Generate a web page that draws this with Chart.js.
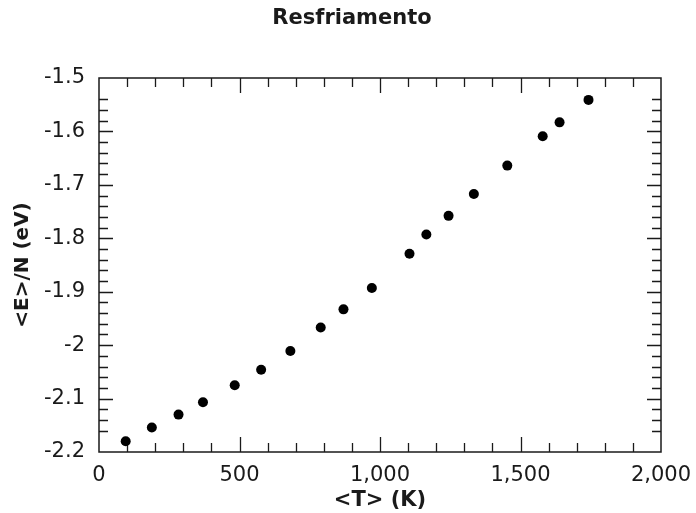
<!DOCTYPE html>
<html>
<head>
<meta charset="utf-8">
<script src="https://cdn.jsdelivr.net/npm/chart.js@4"></script>
<style>
  body { margin: 0; background: #fff; }
  canvas { display: block; }
</style>
</head>
<body>
<canvas id="chart" width="696" height="513"></canvas>
<script>
// mean temperature (K) and mean energy per atom (eV)
var temps = [95, 188, 283, 370, 483, 577, 681, 789, 870, 971, 1105, 1165, 1244, 1334, 1453, 1579, 1639, 1742];
var energies = [-2.180, -2.154, -2.130, -2.107, -2.075, -2.046, -2.011, -1.967, -1.933, -1.893,
                -1.829, -1.793, -1.758, -1.717, -1.664, -1.609, -1.583, -1.541];

var xTicks = [0, 500, 1000, 1500, 2000];
var xTickLabels = ['0', '500', '1,000', '1,500', '2,000'];
var yTicks = [-2.2, -2.1, -2.0, -1.9, -1.8, -1.7, -1.6, -1.5];
var yTickLabels = ['-2.2', '-2.1', '-2', '-1.9', '-1.8', '-1.7', '-1.6', '-1.5'];

var points = temps.map(function (t, i) { return { x: t, y: energies[i] }; });

var ink = '#1a1a1a';
var family = "'DejaVu Sans', sans-serif";

// frame with inward ticks on all four sides + centred title
var framePlugin = {
  id: 'frame',
  beforeDatasetsDraw: function (chart) {
    var c = chart.ctx, a = chart.chartArea;
    var xs = chart.scales.x, ys = chart.scales.y;
    c.save();
    c.strokeStyle = ink;
    c.lineWidth = 1.5;
    c.strokeRect(a.left, a.top, a.right - a.left, a.bottom - a.top);
    c.lineWidth = 1.3;
    c.beginPath();
    // x: minor every 100, major every 500
    for (var v = 100; v < 2000; v += 100) {
      var px = Math.round(xs.getPixelForValue(v)) + 0.5;
      var len = v % 500 === 0 ? 15 : 9;
      c.moveTo(px, a.bottom); c.lineTo(px, a.bottom - len);
      c.moveTo(px, a.top); c.lineTo(px, a.top + len);
    }
    // y: minor every 0.02 (the ones next to the ends are left out), major every 0.1
    for (var k = 77; k <= 108; k++) {
      var val = -k / 50;
      var py = Math.round(ys.getPixelForValue(val)) + 0.5;
      var l = k % 5 === 0 ? 14 : 9;
      c.moveTo(a.left, py); c.lineTo(a.left + l, py);
      c.moveTo(a.right, py); c.lineTo(a.right - l, py);
    }
    c.stroke();
    c.fillStyle = ink;
    c.font = "bold 21px " + family;
    c.textAlign = 'center';
    c.textBaseline = 'middle';
    c.fillText('Resfriamento', 352, 19);
    c.restore();
  }
};

var chart = new Chart(document.getElementById('chart').getContext('2d'), {
  type: 'scatter',
  data: {
    datasets: [{
      label: 'Resfriamento',
      data: points,
      backgroundColor: '#000',
      borderWidth: 0,
      pointRadius: 5,
      pointHoverRadius: 5
    }]
  },
  options: {
    responsive: false,
    animation: false,
    layout: { padding: { top: 78, right: 35, bottom: 0, left: 0 } },
    plugins: {
      legend: { display: false },
      tooltip: { enabled: false },
      title: { display: false }
    },
    scales: {
      x: {
        type: 'linear',
        min: 0,
        max: 2000,
        afterBuildTicks: function (s) { s.ticks = xTicks.map(function (v) { return { value: v }; }); },
        afterFit: function (s) { s.height = 61; s.paddingLeft = 0; s.paddingRight = 0; },
        grid: { display: false, drawTicks: false },
        border: { display: false },
        ticks: {
          callback: function (v, i) { return xTickLabels[i]; },
          color: ink,
          font: { family: family, size: 21 },
          padding: 11,
          maxRotation: 0
        },
        title: {
          display: true,
          text: '<T> (K)',
          color: ink,
          font: { family: family, size: 21, weight: 'bold' },
          padding: { top: 0, bottom: 0 }
        }
      },
      y: {
        type: 'linear',
        min: -2.2,
        max: -1.5,
        afterBuildTicks: function (s) { s.ticks = yTicks.map(function (v) { return { value: v }; }); },
        afterFit: function (s) { s.width = 99; s.paddingTop = 0; s.paddingBottom = 0; },
        grid: { display: false, drawTicks: false },
        border: { display: false },
        ticks: {
          callback: function (v, i) { return yTickLabels[i]; },
          color: ink,
          font: { family: family, size: 21 },
          padding: 14
        },
        title: {
          display: true,
          text: '<E>/N (eV)',
          color: ink,
          font: { family: family, size: 20, weight: 'bold' },
          padding: { top: 11, bottom: 0 }
        }
      }
    }
  },
  plugins: [framePlugin]
});
</script>
</body>
</html>
